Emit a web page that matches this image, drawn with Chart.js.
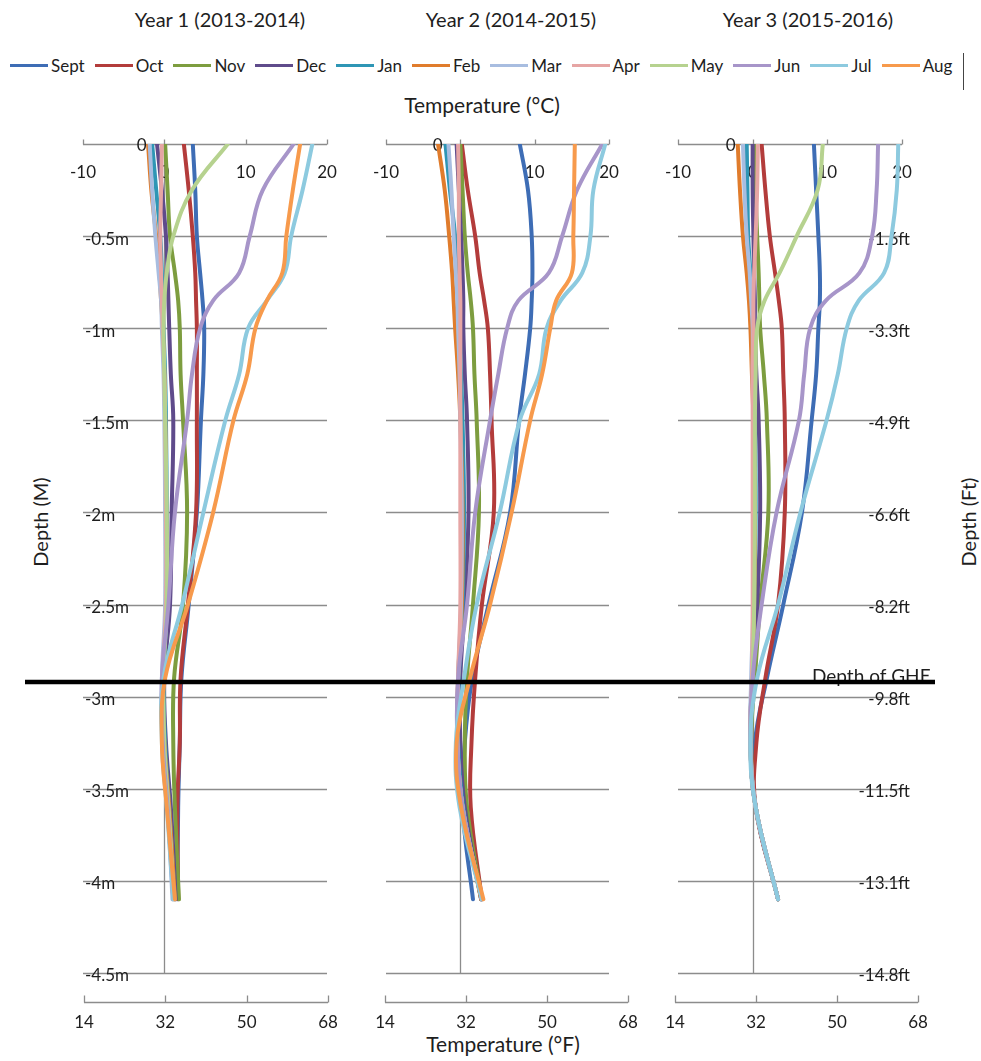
<!DOCTYPE html>
<html>
<head>
<meta charset="utf-8">
<script src="https://cdn.jsdelivr.net/npm/chart.js@4/dist/chart.umd.min.js"></script>
<style>
  html, body { margin: 0; padding: 0; background: #fff; }
  body { width: 981px; height: 1061px; position: relative; overflow: hidden; font-family: Lato, "Open Sans", sans-serif; color: #1e1e1e; }
  canvas { position: absolute; left: 0; top: 0; }
  .txt { position: absolute; white-space: nowrap; transform: translate(-50%, -50%); }
  .rot { transform: translate(-50%, -50%) rotate(-90deg); }
  #legend { position: absolute; left: 10px; top: 54px; height: 22px; display: flex; align-items: center; font-size: 17px; }
  #legend .item { display: flex; align-items: center; margin-right: 10px; }
  #legend .bar { width: 38px; height: 3px; margin-right: 3px; }
  #legendEdge { position: absolute; left: 963px; top: 53px; width: 0; height: 37px; border-left: 1.5px solid #444; }
</style>
</head>
<body>
<div id="legend"></div>
<div id="legendEdge"></div>
<div class="txt" style="left:482px; top:104px; font-size:21px;">Temperature (°C)</div>
<div class="txt" style="left:503px; top:1043px; font-size:21px;">Temperature (°F)</div>
<div class="txt rot" style="left:40px; top:522px; font-size:20px;">Depth (M)</div>
<div class="txt rot" style="left:968px; top:522px; font-size:20px;">Depth (Ft)</div>
<script>
// Sensor depths below ground (m)
const depths = [0, 0.25, 0.5, 0.7, 0.85, 1.0, 1.25, 1.5, 2.0, 2.5, 2.9, 3.25, 3.6, 4.1];

const months = ['Sept', 'Oct', 'Nov', 'Dec', 'Jan', 'Feb', 'Mar', 'Apr', 'May', 'Jun', 'Jul', 'Aug'];
const monthColors = ['#3e6db5', '#b33c3b', '#7d9d3f', '#5f4b8b', '#2e96b5', '#e07c2c',
                     '#a8bde0', '#e6a5a4', '#b6d28f', '#a795c9', '#8dcadf', '#f79a4c'];

const yearTitles = ['Year 1 (2013-2014)', 'Year 2 (2014-2015)', 'Year 3 (2015-2016)'];

// Monthly soil temperature profiles (°C), one row per month, one value per depth
const year1 = [
  [3.5, 3.8, 4.0, 4.4, 4.7, 4.9, 4.8, 4.5, 4.0, 3.0, 2.1, 1.9, 1.7, 1.6],        // Sept
  [2.4, 3.0, 3.5, 3.8, 3.9, 4.0, 4.0, 4.0, 3.9, 2.9, 2.0, 1.9, 1.6, 1.7],        // Oct
  [0.1, 0.4, 0.7, 1.3, 1.7, 1.9, 2.0, 2.3, 2.8, 2.3, 1.2, 1.1, 1.3, 1.8],        // Nov
  [-0.9, -0.3, 0.2, 0.4, 0.5, 0.6, 0.8, 1.1, 0.9, 0.7, 0.0, 0.2, 0.8, 1.4],      // Dec
  [-1.5, -1.0, -0.5, -0.3, -0.2, -0.1, 0.1, 0.2, 0.3, 0.3, -0.1, 0.1, 0.6, 1.3], // Jan
  [-2.0, -1.6, -1.0, -0.6, -0.4, -0.2, 0.0, 0.1, 0.2, 0.2, -0.2, 0.0, 0.6, 1.3], // Feb
  [-1.8, -1.5, -1.1, -0.7, -0.4, -0.3, -0.1, 0.0, 0.1, 0.1, -0.3, -0.2, 0.4, 1.0], // Mar
  [-0.3, -0.4, -0.5, -0.4, -0.3, -0.2, 0.0, 0.1, 0.2, 0.2, -0.2, -0.1, 0.5, 1.1], // Apr
  [7.8, 3.4, 1.1, 0.3, 0.0, -0.1, 0.0, 0.1, 0.3, 0.3, -0.1, 0.0, 0.5, 1.2],      // May
  [15.9, 12.1, 10.5, 9.2, 6.0, 4.4, 3.4, 2.8, 1.3, 0.5, -0.3, -0.2, 0.4, 1.1],   // Jun
  [18.2, 17.0, 15.6, 14.8, 12.6, 10.3, 9.2, 7.5, 4.8, 2.2, -0.1, -0.3, 0.3, 1.1], // Jul
  [16.7, 15.8, 15.0, 14.5, 12.6, 11.2, 10.2, 8.5, 6.0, 2.9, 0.1, -0.3, 0.3, 1.3]  // Aug
];
const year2 = [
  [8.0, 9.1, 9.6, 9.7, 9.6, 9.4, 8.7, 7.9, 6.7, 3.8, 1.6, 0.6, 0.3, 1.7],        // Sept
  [0.2, 1.0, 2.0, 2.6, 3.2, 3.7, 4.0, 4.2, 4.5, 2.9, 2.0, 1.5, 1.4, 2.9],        // Oct
  [0.0, 0.3, 0.6, 1.0, 1.4, 1.7, 1.9, 2.2, 2.5, 1.7, 0.9, 0.6, 0.9, 2.9],        // Nov
  [-0.5, -0.2, 0.1, 0.3, 0.4, 0.4, 0.6, 0.9, 1.1, 0.6, 0.0, 0.0, 0.6, 2.8],      // Dec
  [-2.0, -1.4, -0.7, -0.4, -0.2, -0.1, 0.1, 0.3, 0.5, 0.3, -0.2, -0.3, 0.4, 2.8], // Jan
  [-3.0, -2.1, -1.5, -1.1, -0.9, -0.7, -0.3, 0.0, 0.3, 0.2, -0.3, -0.4, 0.3, 2.8], // Feb
  [-1.6, -1.2, -0.9, -0.6, -0.4, -0.3, -0.1, 0.0, 0.2, 0.1, -0.3, -0.4, 0.3, 2.9], // Mar
  [-0.3, -0.2, -0.2, -0.1, 0.0, 0.0, 0.0, 0.0, 0.0, 0.0, -0.3, -0.4, 0.3, 2.9],  // Apr
  null,                                                                          // May (no record)
  [19.1, 15.7, 13.7, 11.9, 7.8, 6.3, 5.1, 4.0, 2.0, 0.9, -0.3, -0.4, 0.3, 2.9],  // Jun
  [19.5, 17.9, 17.5, 16.4, 13.5, 11.6, 10.6, 8.0, 5.3, 2.2, 0.5, -0.6, -0.1, 2.9], // Jul
  [15.4, 15.3, 15.2, 15.0, 12.9, 12.1, 11.0, 9.4, 6.9, 4.0, 1.3, -0.5, 0.1, 3.1]  // Aug
];
const year3 = [
  [8.2, 8.5, 8.8, 9.0, 9.0, 8.8, 8.5, 7.9, 6.6, 4.1, 1.9, 0.3, 0.4, 3.4],        // Sept
  [1.2, 1.7, 2.3, 3.0, 3.5, 3.9, 4.1, 4.3, 4.3, 3.4, 1.7, 0.5, 0.4, 3.4],        // Oct
  [0.3, 0.4, 0.6, 0.8, 0.9, 1.0, 1.5, 1.9, 2.1, 1.0, 0.3, -0.2, 0.4, 3.4],       // Nov
  [0.0, 0.0, 0.1, 0.2, 0.3, 0.3, 0.5, 0.8, 1.0, 0.6, 0.0, -0.3, 0.4, 3.4],       // Dec
  [-0.8, -0.7, -0.6, -0.3, -0.1, 0.0, 0.1, 0.3, 0.4, 0.2, -0.1, -0.3, 0.4, 3.4], // Jan
  [-2.0, -1.7, -1.3, -0.8, -0.5, -0.3, -0.1, 0.1, 0.3, 0.2, -0.1, -0.3, 0.4, 3.4], // Feb
  [-1.3, -1.1, -0.8, -0.4, -0.2, 0.0, 0.0, 0.1, 0.2, 0.1, -0.2, -0.3, 0.4, 3.4], // Mar
  [0.7, 0.6, 0.4, 0.2, 0.1, 0.1, 0.0, 0.0, 0.0, 0.0, -0.1, -0.3, 0.4, 3.4],      // Apr
  [9.4, 8.7, 5.9, 3.6, 1.6, 0.6, 0.4, 0.3, 0.3, 0.2, 0.0, -0.3, 0.4, 3.4],       // May
  [16.8, 16.6, 16.0, 14.3, 9.8, 7.7, 6.9, 6.2, 3.2, 1.2, 0.0, -0.3, 0.4, 3.4],   // Jun
  [19.5, 19.3, 18.6, 17.6, 14.2, 12.6, 11.4, 9.9, 6.4, 3.4, 0.6, -0.3, 0.4, 3.4], // Jul
  null                                                                           // Aug (no record)
];
const years = [year1, year2, year3];

// Axis ticks and labels
const celsiusTicks = [-10, 0, 10, 20];
const fahrenheitTicks = [14, 32, 50, 68];
const depthTicks = [0, -0.5, -1, -1.5, -2, -2.5, -3, -3.5, -4, -4.5];
const metreLabels = ['', '-0.5m', '-1m', '-1.5m', '-2m', '-2.5m', '-3m', '-3.5m', '-4m', '-4.5m'];
const feetLabels = ['', '-1.6ft', '-3.3ft', '-4.9ft', '-6.6ft', '-8.2ft', '-9.8ft', '-11.5ft', '-13.1ft', '-14.8ft'];
const gheDepth = 2.92;      // installed depth of the ground heat exchanger (m)
const gheLabel = 'Depth of GHE';

// Page layout of the three panels (pixels)
const W = 981, H = 1061;
const plotTop = 144, plotBottom = 973;
const panels = [
  { left: 83,  right: 327, fLeft: 84,  fRight: 328, titleX: 220, depthLabels: 'left' },
  { left: 386, right: 609, fLeft: 385, fRight: 628, titleX: 511, depthLabels: 'none' },
  { left: 678, right: 902, fLeft: 675, fRight: 918, titleX: 808, depthLabels: 'right' }
];

const GRID = '#8c8c8c';
const TEXT = '#1e1e1e';
const FONT = '17px Lato, "Open Sans", sans-serif';

// Legend
const legendEl = document.getElementById('legend');
months.forEach((m, i) => {
  const item = document.createElement('div');
  item.className = 'item';
  const bar = document.createElement('span');
  bar.className = 'bar';
  bar.style.background = monthColors[i];
  const label = document.createElement('span');
  label.textContent = m;
  item.appendChild(bar);
  item.appendChild(label);
  legendEl.appendChild(item);
});

// Panel titles
panels.forEach((p, k) => {
  const t = document.createElement('div');
  t.className = 'txt';
  t.style.left = p.titleX + 'px';
  t.style.top = '19px';
  t.style.fontSize = '20px';
  t.textContent = yearTitles[k];
  document.body.appendChild(t);
});

function line(ctx, x1, y1, x2, y2) {
  ctx.beginPath();
  ctx.moveTo(x1, y1);
  ctx.lineTo(x2, y2);
  ctx.stroke();
}

// Axes, grid and depth labels drawn underneath the profiles
const axesPlugin = {
  id: 'profileAxes',
  beforeDatasetsDraw(chart, args, opts) {
    const { ctx, chartArea } = chart;
    const x = chart.scales.x, y = chart.scales.y, xF = chart.scales.xF;
    const p = opts.panel;
    ctx.save();
    ctx.strokeStyle = GRID;
    ctx.lineWidth = 1.3;

    // horizontal depth grid
    depthTicks.forEach(v => {
      if (v === 0) return;
      const py = Math.round(y.getPixelForValue(v)) + 0.5;
      line(ctx, chartArea.left, py, chartArea.right, py);
    });

    // vertical 0 °C axis
    const x0 = Math.round(x.getPixelForValue(0)) + 0.5;
    line(ctx, x0, y.getPixelForValue(0), x0, y.getPixelForValue(-4.5));

    // top temperature axis (°C)
    const yTop = Math.round(y.getPixelForValue(0)) + 0.5;
    line(ctx, x.getPixelForValue(celsiusTicks[0]), yTop,
         x.getPixelForValue(celsiusTicks[celsiusTicks.length - 1]), yTop);
    celsiusTicks.forEach(v => {
      const px = Math.round(x.getPixelForValue(v)) + 0.5;
      line(ctx, px, yTop, px, yTop - 5);
    });

    // bottom temperature axis (°F)
    const yBot = Math.round(y.getPixelForValue(-4.5)) + 29.5;
    line(ctx, xF.getPixelForValue(fahrenheitTicks[0]), yBot,
         xF.getPixelForValue(fahrenheitTicks[fahrenheitTicks.length - 1]), yBot);
    fahrenheitTicks.forEach(v => {
      const px = Math.round(xF.getPixelForValue(v)) + 0.5;
      line(ctx, px, yBot, px, yBot - 7);
    });

    ctx.fillStyle = TEXT;
    ctx.font = FONT;
    ctx.textBaseline = 'middle';
    ctx.textAlign = 'center';
    celsiusTicks.forEach(v => ctx.fillText(String(v), x.getPixelForValue(v), yTop + 28));
    fahrenheitTicks.forEach(v => ctx.fillText(String(v), xF.getPixelForValue(v), yBot + 20));

    // depth 0 label beside the 0 °C axis
    ctx.textAlign = 'right';
    ctx.fillText('0', x0 - 18, yTop + 1);

    if (p.depthLabels === 'left') {
      ctx.textAlign = 'left';
      depthTicks.forEach((v, i) => {
        if (metreLabels[i]) ctx.fillText(metreLabels[i], chartArea.left + 2, y.getPixelForValue(v) + 3);
      });
    } else if (p.depthLabels === 'right') {
      ctx.textAlign = 'right';
      depthTicks.forEach((v, i) => {
        if (feetLabels[i]) ctx.fillText(feetLabels[i], chartArea.right + 8, y.getPixelForValue(v) + 3);
      });
    }
    ctx.restore();
  },
  afterDatasetsDraw(chart, args, opts) {
    if (!opts.drawGhe) return;
    const { ctx } = chart;
    const y = chart.scales.y;
    const py = y.getPixelForValue(-gheDepth);
    ctx.save();
    ctx.fillStyle = TEXT;
    ctx.font = '19px Lato, "Open Sans", sans-serif';
    ctx.textAlign = 'left';
    ctx.textBaseline = 'alphabetic';
    ctx.fillText(gheLabel, 812, py + 1);
    ctx.strokeStyle = '#000';
    ctx.lineWidth = 4.5;
    line(ctx, 25, py, 935, py);
    ctx.restore();
  }
};

panels.forEach((p, k) => {
  const canvas = document.createElement('canvas');
  canvas.width = W;
  canvas.height = H;
  canvas.style.width = W + 'px';
  canvas.style.height = H + 'px';
  document.body.appendChild(canvas);

  const pxPerF = (p.fRight - p.fLeft) / (fahrenheitTicks[3] - fahrenheitTicks[0]);
  const fMin = fahrenheitTicks[0] + (p.left - p.fLeft) / pxPerF;
  const fMax = fahrenheitTicks[0] + (p.right - p.fLeft) / pxPerF;

  const datasets = [];
  years[k].forEach((row, i) => {
    if (!row) return;
    datasets.push({
      label: months[i],
      data: depths.map((d, j) => ({ x: row[j], y: -d })),
      borderColor: monthColors[i],
      backgroundColor: monthColors[i],
      borderWidth: 4,
      borderCapStyle: 'round',
      borderJoinStyle: 'round',
      pointRadius: 0,
      showLine: true,
      tension: 0.4,
      fill: false,
      order: months.length - i
    });
  });

  new Chart(canvas, {
    type: 'scatter',
    data: { datasets },
    options: {
      responsive: false,
      animation: false,
      devicePixelRatio: 1,
      events: [],
      layout: { padding: { left: p.left, right: W - p.right, top: plotTop, bottom: H - plotBottom } },
      scales: {
        x: { type: 'linear', min: celsiusTicks[0], max: celsiusTicks[3], display: false },
        xF: { type: 'linear', axis: 'x', position: 'bottom', min: fMin, max: fMax, display: false },
        y: { type: 'linear', min: depthTicks[depthTicks.length - 1], max: 0, display: false }
      },
      plugins: {
        legend: { display: false },
        tooltip: { enabled: false },
        profileAxes: { panel: p, drawGhe: k === panels.length - 1 }
      }
    },
    plugins: [axesPlugin]
  });
});
</script>
</body>
</html>
